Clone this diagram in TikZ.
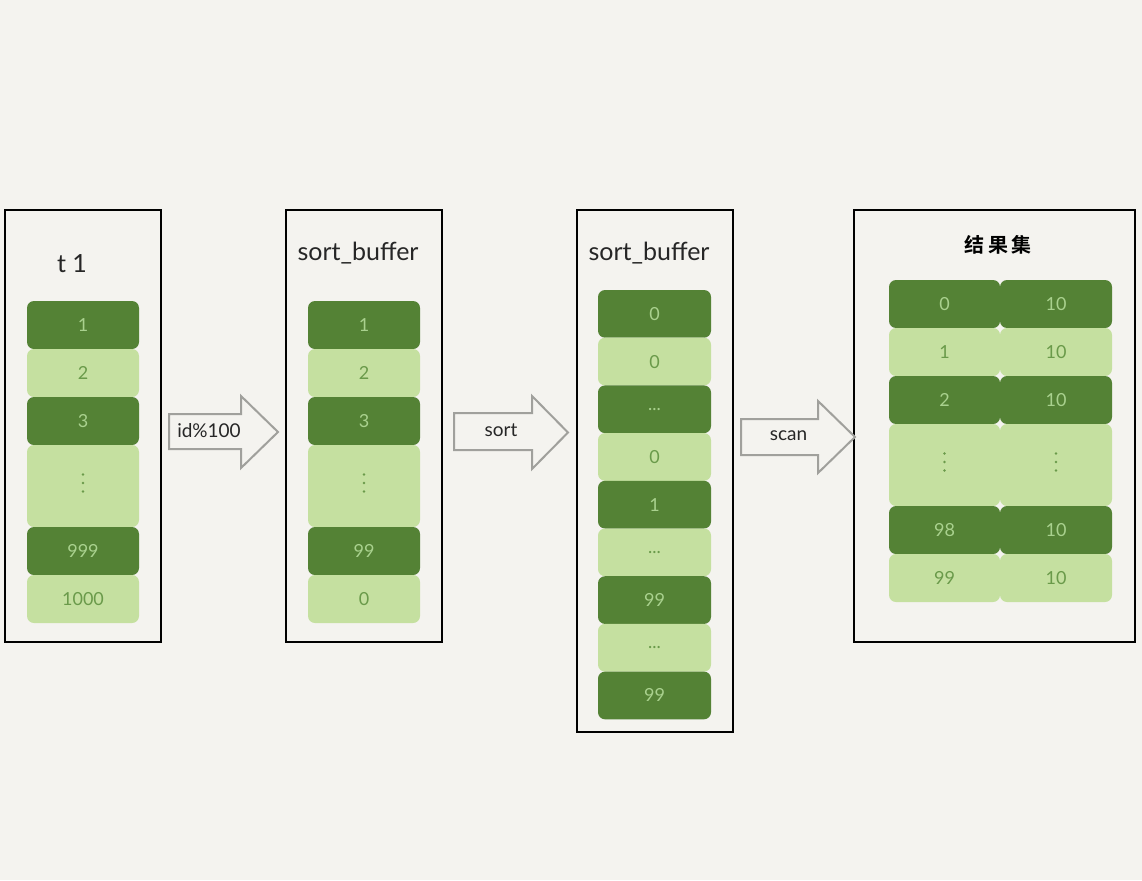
\documentclass[tikz,border=0pt]{standalone}
\usepackage{fontspec}
\setmainfont{Lato}
\newfontfamily\cjkfont{Noto Sans CJK SC Bold}
\definecolor{bgc}{HTML}{F4F3EF}
\definecolor{dkg}{HTML}{548235}
\definecolor{ltg}{HTML}{C5E0A0}
\definecolor{dktx}{HTML}{A9D18E}
\definecolor{lttx}{HTML}{6A9A4A}
\definecolor{arrg}{HTML}{A0A09C}
\tikzset{
  x=1pt, y=-1pt,
  frame/.style={draw=black, line width=2pt, fill=bgc, inner sep=0pt},
  cellbase/.style={rounded corners=7pt, inner sep=0pt, font=\fontsize{18}{18}\selectfont},
  dk/.style={cellbase, fill=dkg, text=dktx},
  lt/.style={cellbase, fill=ltg, text=lttx},
  title/.style={font=\fontsize{25}{25}\selectfont, text=black!85},
  arrowbody/.style={draw=arrg, line width=2pt, fill=bgc, line join=miter},
  arrowtext/.style={font=\fontsize{19}{19}\selectfont, text=black!85, inner sep=0pt},
  vdot/.style={fill=lttx, draw=none},
}
\newcommand{\cellat}[7]{% name, style, x1, y1, x2, y2, text
  \node[#2, minimum width={#5-#3}, minimum height={#6-#4}] (#1) at ({(#3+#5)/2},{(#4+#6)/2}) {#7};}
\newcommand{\vdotsat}[1]{%
  \fill[vdot] ([yshift=11.5pt]#1.center) circle (1.4pt);
  \fill[vdot] ([yshift=3pt]#1.center) circle (1.4pt);
  \fill[vdot] ([yshift=-5.5pt]#1.center) circle (1.4pt);}
\newcommand{\blockarrow}[8]{% name, x1, x2(head base), x3(tip), ytop shaft, ybot shaft, ytop head, ybot head
  \draw[arrowbody] (#2,#5) -- (#3,#5) -- (#3,#7) -- (#4,{(#7+#8)/2}) -- (#3,#8) -- (#3,#6) -- (#2,#6) -- cycle;
  \coordinate (#1) at ({(#2+#3)/2},{(#5+#6)/2});}
\begin{document}
\begin{tikzpicture}
\useasboundingbox[fill=bgc] (0,0) rectangle (1142,880);

% frames
\node[frame, minimum width=156pt, minimum height=432pt] (f1) at (83,426) {};
\node[frame, minimum width=156pt, minimum height=432pt] (f2) at (364,426) {};
\node[frame, minimum width=156pt, minimum height=522pt] (f3) at (655,471) {};
\node[frame, minimum width=281pt, minimum height=432pt] (f4) at (994.5,426) {};

% titles
\node[title] (t1) at (72,264) {t 1};
\node[title] (t2) at (358,253) {sort\_buffer};
\node[title] (t3) at (649,253) {sort\_buffer};
\node[font=\cjkfont\fontsize{20}{20}\selectfont, text=black] (t4) at (998,245) {结\,果\,集};

% box 1
\cellat{a1}{dk}{27}{301}{139}{349}{1}
\cellat{a2}{lt}{27}{349}{139}{397}{2}
\cellat{a3}{dk}{27}{397}{139}{445}{3}
\cellat{a4}{lt}{27}{445}{139}{527}{}
\cellat{a5}{dk}{27}{527}{139}{575}{999}
\cellat{a6}{lt}{27}{575}{139}{623}{1000}
\vdotsat{a4}

% box 2
\cellat{b1}{dk}{308}{301}{420}{349}{1}
\cellat{b2}{lt}{308}{349}{420}{397}{2}
\cellat{b3}{dk}{308}{397}{420}{445}{3}
\cellat{b4}{lt}{308}{445}{420}{527}{}
\cellat{b5}{dk}{308}{527}{420}{575}{99}
\cellat{b6}{lt}{308}{575}{420}{623}{0}
\vdotsat{b4}

% box 3
\cellat{c1}{dk}{598}{290}{711}{337.7}{0}
\cellat{c2}{lt}{598}{337.7}{711}{385.4}{0}
\cellat{c3}{dk}{598}{385.4}{711}{433.1}{...}
\cellat{c4}{lt}{598}{433.1}{711}{480.8}{0}
\cellat{c5}{dk}{598}{480.8}{711}{528.5}{1}
\cellat{c6}{lt}{598}{528.5}{711}{576.2}{...}
\cellat{c7}{dk}{598}{576.2}{711}{623.9}{99}
\cellat{c8}{lt}{598}{623.9}{711}{671.6}{...}
\cellat{c9}{dk}{598}{671.6}{711}{719.3}{99}

% box 4
\cellat{d1}{dk}{889}{280}{1000}{328}{0}
\cellat{e1}{dk}{1000}{280}{1112}{328}{10}
\cellat{d2}{lt}{889}{328}{1000}{376}{1}
\cellat{e2}{lt}{1000}{328}{1112}{376}{10}
\cellat{d3}{dk}{889}{376}{1000}{424}{2}
\cellat{e3}{dk}{1000}{376}{1112}{424}{10}
\cellat{d4}{lt}{889}{424}{1000}{506}{}
\cellat{e4}{lt}{1000}{424}{1112}{506}{}
\cellat{d5}{dk}{889}{506}{1000}{554}{98}
\cellat{e5}{dk}{1000}{506}{1112}{554}{10}
\cellat{d6}{lt}{889}{554}{1000}{602}{99}
\cellat{e6}{lt}{1000}{554}{1112}{602}{10}
\vdotsat{d4}
\vdotsat{e4}

% block arrows
\blockarrow{s1}{169}{241}{278}{414}{449}{396}{468}
\blockarrow{s2}{454}{532}{568}{413}{450}{396}{469}
\blockarrow{s3}{741}{818}{855}{419}{455}{401}{473}
\node[arrowtext] (l1) at ([xshift=4pt,yshift=1pt]s1) {id\%100};
\node[arrowtext] (l2) at ([xshift=8pt,yshift=1pt]s2) {sort};
\node[arrowtext] (l3) at ([xshift=9pt,yshift=1pt]s3) {scan};
\end{tikzpicture}
\end{document}
